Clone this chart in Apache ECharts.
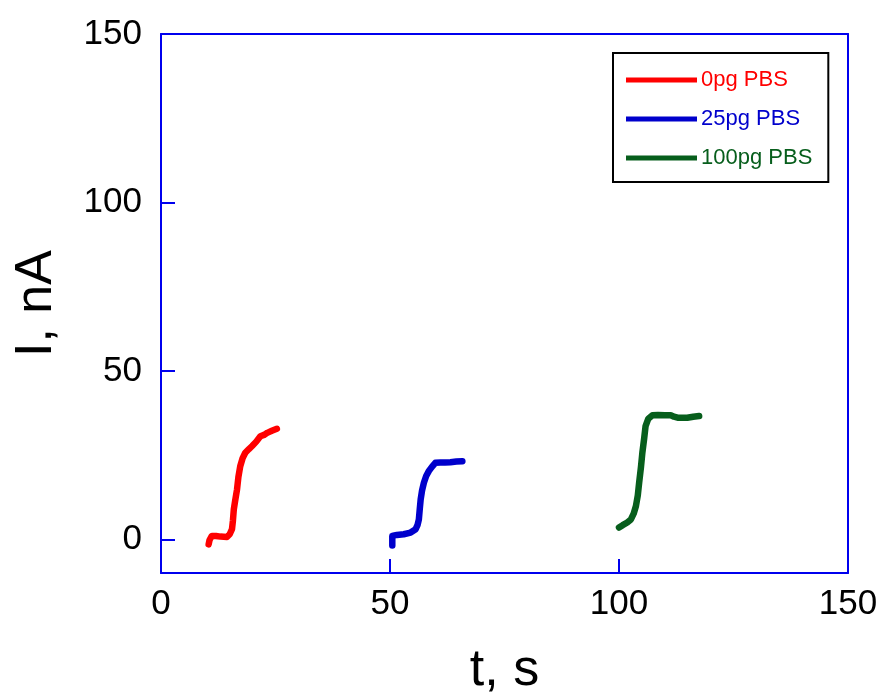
<!DOCTYPE html>
<html>
<head>
<meta charset="utf-8">
<script src="https://cdn.jsdelivr.net/npm/echarts@6/dist/echarts.min.js"></script>
<style>
html,body{margin:0;padding:0;background:#fff;}
#chart{width:884px;height:693px;}
</style>
</head>
<body>
<div id="chart"></div>
<script>
// Data
var seriesNames = ['0pg PBS', '25pg PBS', '100pg PBS'];
var redT = [10.4, 10.6, 11.1, 12.0, 13.0, 14.4, 15.0, 15.5, 15.7, 15.9, 16.2, 16.6, 16.9, 17.3, 17.8, 18.4, 19.2, 19.9, 20.8, 21.7, 22.5, 23.2, 24.2, 25.3];
var redI = [-1.5, -0.2, 1.0, 1.0, 0.8, 0.7, 1.5, 3.0, 5.5, 8.9, 11.5, 14.8, 18.5, 21.7, 24.0, 25.7, 26.8, 27.7, 29.0, 30.6, 31.0, 31.6, 32.2, 32.8];
var blueT = [50.5, 50.5, 51.5, 53.0, 54.5, 55.6, 56.0, 56.3, 56.5, 56.7, 57.0, 57.4, 57.9, 58.5, 59.2, 59.9, 61.0, 62.0, 63.2, 64.5, 65.8];
var blueI = [-1.8, 1.0, 1.3, 1.5, 2.0, 3.0, 4.2, 5.9, 9.0, 11.9, 14.5, 16.8, 18.8, 20.3, 21.6, 22.7, 22.8, 22.8, 22.9, 23.1, 23.2];
var greenT = [100.0, 100.8, 101.8, 102.6, 103.2, 103.7, 104.1, 104.4, 104.8, 105.1, 105.5, 105.8, 106.4, 107.3, 108.5, 110.0, 111.3, 112.0, 112.8, 113.8, 114.9, 116.2, 117.5];
var greenI = [3.5, 4.2, 5.0, 5.9, 7.6, 9.9, 13.0, 16.8, 21.5, 25.7, 30.0, 33.6, 35.8, 36.8, 36.9, 36.8, 36.8, 36.4, 36.1, 36.1, 36.1, 36.4, 36.6];
var xTicks = [0, 50, 100, 150];
var yTicks = [0, 50, 100, 150];
var colors = ['#ff0000', '#0000cc', '#075e1c'];

function pairs(xs, ys) {
  var out = [];
  for (var i = 0; i < xs.length; i++) out.push([xs[i], ys[i]]);
  return out;
}

var FONT = 'Liberation Sans, Arial, sans-serif';
var AXIS_COLOR = '#0000ee';

var chart = echarts.init(document.getElementById('chart'), null, {renderer: 'canvas'});
var dataSets = [pairs(redT, redI), pairs(blueT, blueI), pairs(greenT, greenI)];

var option = {
  backgroundColor: '#ffffff',
  animation: false,
  grid: {left: 161, top: 34, right: 36, bottom: 120, show: false, containLabel: false, outerBoundsMode: 'none'},
  xAxis: [{
    type: 'value', min: 0, max: 150, interval: 50,
    name: 't, s', nameLocation: 'middle', nameGap: 72,
    nameTextStyle: {fontFamily: FONT, fontSize: 52, color: '#000'},
    axisLine: {show: true, onZero: false, lineStyle: {color: AXIS_COLOR, width: 2}},
    axisTick: {show: true, inside: true, length: 14, customValues: xTicks, lineStyle: {color: AXIS_COLOR, width: 2}},
    axisLabel: {show: true, customValues: xTicks, margin: 14, fontFamily: FONT, fontSize: 35, color: '#000'},
    splitLine: {show: false}
  }, {
    type: 'value', min: 0, max: 150, position: 'top',
    axisLine: {show: true, onZero: false, lineStyle: {color: AXIS_COLOR, width: 2}},
    axisTick: {show: false}, axisLabel: {show: false}, splitLine: {show: false}
  }],
  yAxis: [{
    type: 'value', min: -10, max: 150,
    name: 'I, nA', nameLocation: 'middle', nameGap: 98, nameRotate: 90,
    nameTextStyle: {fontFamily: FONT, fontSize: 52, color: '#000'},
    axisLine: {show: true, onZero: false, lineStyle: {color: AXIS_COLOR, width: 2}},
    axisTick: {show: true, inside: true, length: 14, customValues: yTicks, lineStyle: {color: AXIS_COLOR, width: 2}},
    axisLabel: {show: true, customValues: yTicks, margin: 19, fontFamily: FONT, fontSize: 35, color: '#000'},
    splitLine: {show: false}
  }, {
    type: 'value', min: -10, max: 150, position: 'right',
    axisLine: {show: true, onZero: false, lineStyle: {color: AXIS_COLOR, width: 2}},
    axisTick: {show: false}, axisLabel: {show: false}, splitLine: {show: false}
  }],
  legend: {
    orient: 'vertical', left: 613, top: 53,
    icon: 'rect', itemWidth: 71, itemHeight: 5, itemGap: 17,
    padding: [16, 16, 13, 13],
    borderColor: '#000', borderWidth: 2,
    textStyle: {fontFamily: FONT, fontSize: 22, lineHeight: 22, padding: [0, 0, 0, -1]},
    data: seriesNames.map(function (n, i) {
      return {name: n, textStyle: {color: colors[i]}};
    })
  },
  series: seriesNames.map(function (n, i) {
    return {
      name: n, type: 'line', data: dataSets[i],
      showSymbol: false, symbol: 'none',
      lineStyle: {color: colors[i], width: 6.5, join: 'round', cap: 'round'},
      itemStyle: {color: colors[i]},
      smooth: false
    };
  })
};
chart.setOption(option);
</script>
</body>
</html>
